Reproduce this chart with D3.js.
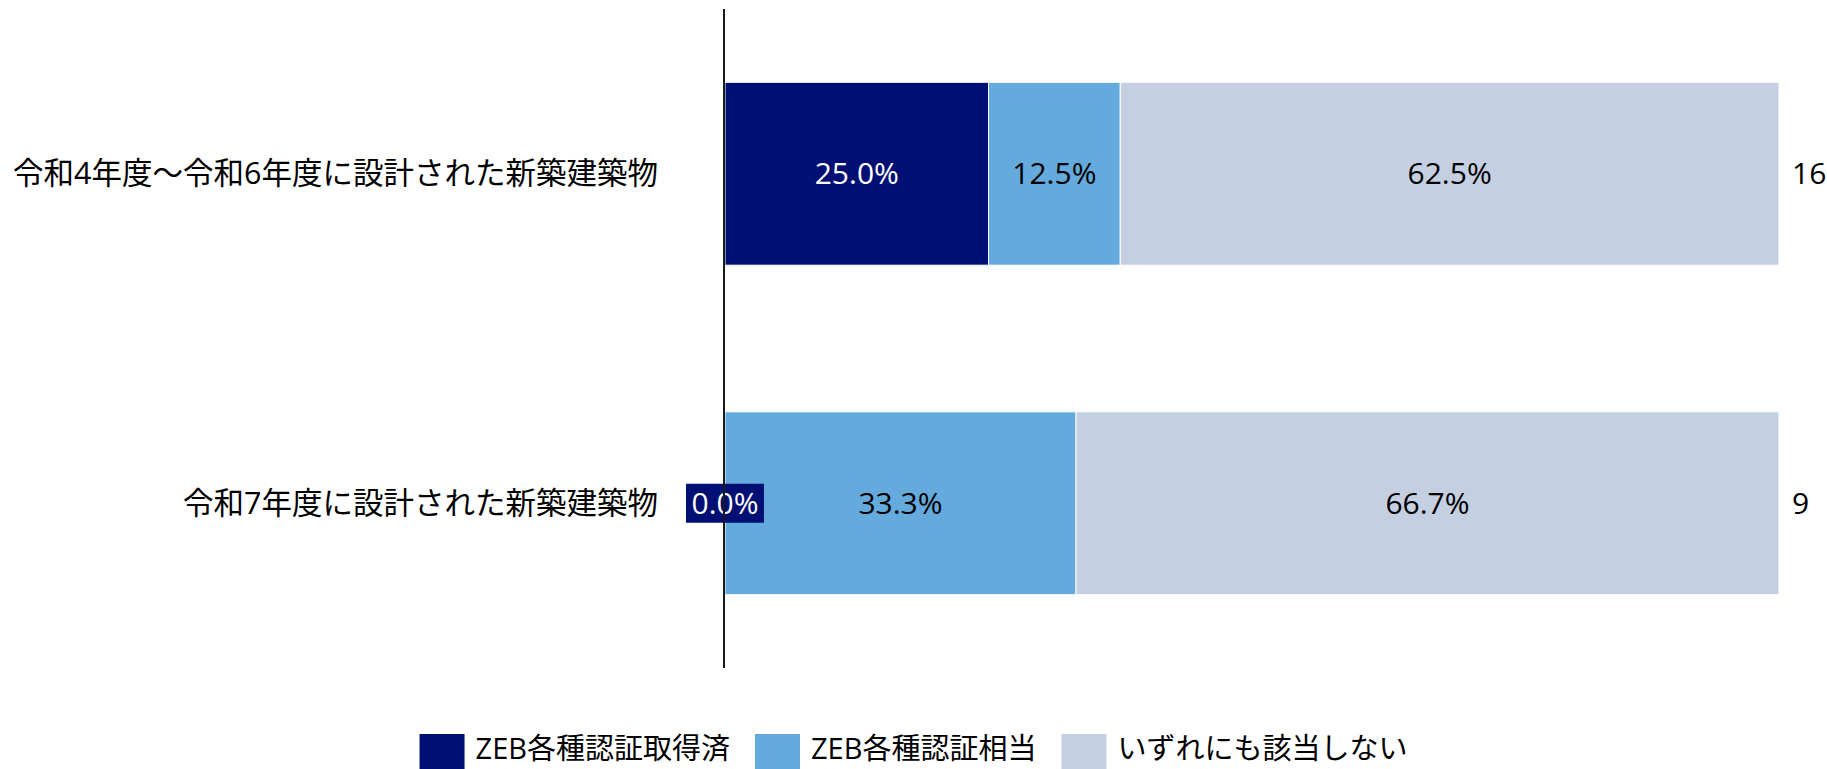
<!DOCTYPE html>
<html lang="ja">
<head>
  <meta charset="UTF-8">
  <title>ZEB認証の取得状況</title>
  <script src="https://d3js.org/d3.v7.min.js"></script>
  <style>
    body {
      margin: 0;
      background: #fff;
      font-family: 'Open Sans', 'Noto Sans CJK JP', sans-serif;
    }
    svg { display: block; }
  </style>
</head>
<body>
  <svg id="chart" width="1827" height="769"></svg>
  <script>
    // values
    var categories = ["令和4年度～令和6年度に設計された新築建築物", "令和7年度に設計された新築建築物"];
    var seriesNames = ["ZEB各種認証取得済", "ZEB各種認証相当", "いずれにも該当しない"];
    var acquired = [25.0, 0.0];
    var equivalent = [12.5, 33.3];
    var neither = [62.5, 66.7];
    var totals = [16, 9];

    var colors = ["#000f73", "#65aadc", "#c4cfe1"];
    var textColors = ["#fff", "#000", "#000"];

    var width = 1827, height = 769;
    var svg = d3.select("#chart");

    var x = d3.scaleLinear().domain([0, 100]).range([725, 1779]);
    var y = d3.scaleBand().domain(categories).range([9, 668])
      .paddingInner(0.445).paddingOuter(0.2225);

    var rows = categories.map(function(c, i) {
      return { cat: c, vals: [acquired[i], equivalent[i], neither[i]], total: totals[i] };
    });

    var segs = [];
    rows.forEach(function(r) {
      var acc = 0;
      r.vals.forEach(function(v, k) {
        segs.push({ cat: r.cat, k: k, v: v, x0: acc, x1: acc + v });
        acc += v;
      });
    });

    // bars
    svg.append("g").selectAll("rect")
      .data(segs.filter(function(d) { return d.v > 0; }))
      .join("rect")
      .attr("x", function(d) { return x(d.x0); })
      .attr("width", function(d) { return x(d.x1) - x(d.x0); })
      .attr("y", function(d) { return y(d.cat); })
      .attr("height", y.bandwidth())
      .attr("fill", function(d) { return colors[d.k]; })
      .attr("stroke", "#fff")
      .attr("stroke-width", 1);

    // value labels
    var lab = svg.append("g").selectAll("g")
      .data(segs)
      .join("g")
      .attr("transform", function(d) {
        return "translate(" + x((d.x0 + d.x1) / 2) + "," + (y(d.cat) + y.bandwidth() / 2) + ")";
      });

    lab.filter(function(d) { return d.v === 0; })
      .append("rect")
      .attr("x", -39).attr("y", -19.5)
      .attr("width", 78).attr("height", 39)
      .attr("fill", function(d) { return colors[d.k]; });

    lab.append("text")
      .attr("text-anchor", "middle")
      .attr("dy", "0.35em")
      .attr("font-size", 30)
      .attr("fill", function(d) { return textColors[d.k]; })
      .text(function(d) { return d.v.toFixed(1) + "%"; });

    // axis line
    svg.append("line")
      .attr("x1", 724).attr("x2", 724)
      .attr("y1", 9).attr("y2", 668)
      .attr("stroke", "#1a1a1a").attr("stroke-width", 2);

    // category labels
    svg.append("g").selectAll("text")
      .data(categories)
      .join("text")
      .attr("x", 658)
      .attr("y", function(d) { return y(d) + y.bandwidth() / 2; })
      .attr("dy", "0.35em")
      .attr("text-anchor", "end")
      .attr("font-size", 30.5)
      .attr("fill", "#000")
      .text(function(d) { return d; });

    // totals
    svg.append("g").selectAll("text")
      .data(rows)
      .join("text")
      .attr("x", x(100) + 13)
      .attr("y", function(d) { return y(d.cat) + y.bandwidth() / 2; })
      .attr("dy", "0.35em")
      .attr("font-size", 30)
      .attr("fill", "#000")
      .text(function(d) { return d.total; });

    // legend
    var legend = svg.append("g");
    var lx = 0;
    seriesNames.forEach(function(name, k) {
      var item = legend.append("g").attr("transform", "translate(" + lx + ",0)");
      item.append("rect")
        .attr("x", 0).attr("y", 734)
        .attr("width", 45).attr("height", 45)
        .attr("fill", colors[k]);
      var t = item.append("text")
        .attr("x", 56).attr("y", 749)
        .attr("dy", "0.35em")
        .attr("font-size", 29)
        .attr("fill", "#000")
        .text(name);
      lx += 56 + t.node().getComputedTextLength() + 25;
    });
    var lw = lx - 25;
    legend.attr("transform", "translate(" + ((width - lw) / 2) + ",0)");
  </script>
</body>
</html>
